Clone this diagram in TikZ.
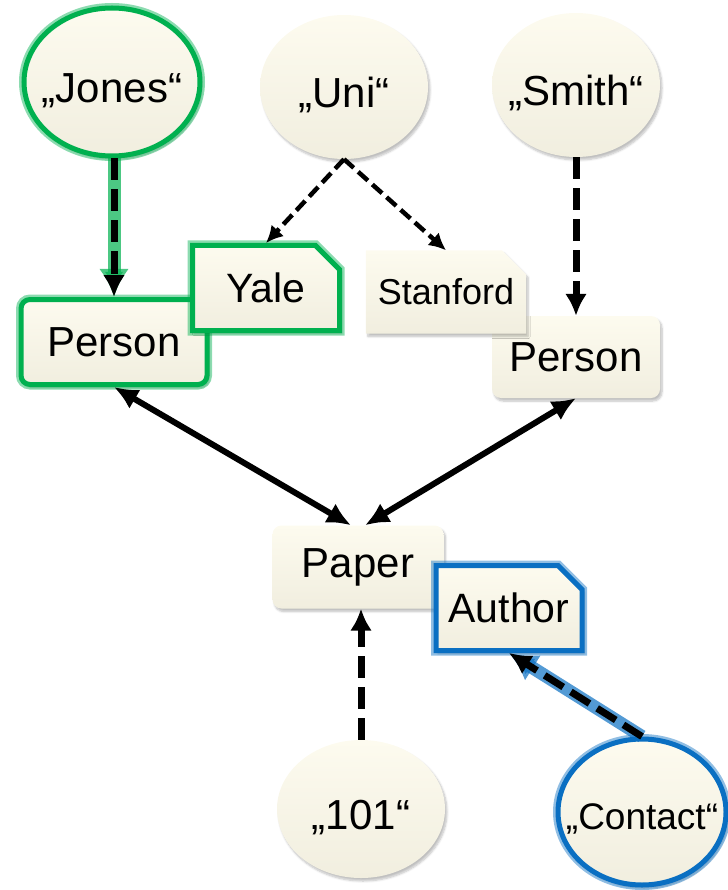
\documentclass[tikz,border=0pt]{standalone}
\usepackage{fontspec}
\setmainfont{Liberation Sans}
\usetikzlibrary{shapes.geometric,shapes.misc,arrows.meta,shadows.blur}

\definecolor{creamtop}{HTML}{FDFBEF}
\definecolor{creambot}{HTML}{F1EEDF}
\definecolor{markgreen}{HTML}{00B04F}
\definecolor{markblue}{HTML}{0A6FC2}

\newcommand{\litlabel}[1]{\makebox[0pt]{\raisebox{-0.48em}[0pt][0pt]{#1}}}

\tikzset{
    cream/.style={top color=creamtop, bottom color=creambot, draw=none,
        blur shadow={shadow xshift=2pt, shadow yshift=-3pt, shadow blur steps=6, shadow opacity=25}},
    lit/.style={cream, ellipse, inner sep=0pt, font=\fontsize{42}{48}\selectfont},
    cls/.style={cream, rectangle, rounded corners=9pt, inner sep=0pt, font=\fontsize{42}{48}\selectfont},
    doc/.style={cream, chamfered rectangle, chamfered rectangle corners=north east,
        chamfered rectangle xsep=12pt, chamfered rectangle ysep=12pt, inner sep=0pt,
        font=\fontsize{41}{48}\selectfont},
    greenmark/.style={draw=markgreen, line width=5pt,
        preaction={draw=markgreen, line width=10pt, opacity=.45}},
    bluemark/.style={draw=markblue, line width=5pt,
        preaction={draw=markblue, line width=10pt, opacity=.45}},
    valarrow/.style={line width=7pt, dash pattern=on 22pt off 9pt, -{Latex[length=22pt,width=22pt]}},
    uniarrow/.style={line width=4.5pt, dash pattern=on 13pt off 6pt, -{Latex[length=17pt,width=17pt]}},
    relarrow/.style={line width=6pt, {Latex[length=24pt,width=22pt]}-{Latex[length=24pt,width=22pt]}}
}

\begin{document}
\begin{tikzpicture}[x=1pt, y=-1pt]

    \useasboundingbox (0,0) rectangle (727,890);

    % literals
    \node[lit, greenmark, minimum width=176, minimum height=148] (jones) at (112,82) {\litlabel{„Jones“}};
    \node[lit, minimum width=168, minimum height=144] (uni) at (344,87) {\litlabel{„Uni“}};
    \node[lit, minimum width=168, minimum height=144] (smith) at (576,85) {\litlabel{„Smith“}};
    \node[lit, minimum width=168, minimum height=138] (n101) at (361,809) {\litlabel{„101“}};
    \node[lit, bluemark, minimum width=168, minimum height=146, font=\fontsize{37}{44}\selectfont] (contact) at (642,812) {\litlabel{„Contact“}};

    % classes
    \node[cls, greenmark, minimum width=186, minimum height=85] (person1) at (114,342) {Person};
    \node[cls, minimum width=168, minimum height=82] (person2) at (576,357) {Person};
    \node[cls, minimum width=171, minimum height=83] (paper) at (358,567) {Paper};

    % documents
    \node[doc, greenmark, minimum width=147, minimum height=85] (yale) at (266,288) {Yale};
    \node[doc, minimum width=144, minimum height=83, font=\fontsize{36}{42}\selectfont] (stanford) at (446,292) {Stanford};
    \node[doc, bluemark, minimum width=146, minimum height=85] (author) at (509,608) {Author};

    % values
    \draw[markgreen, opacity=.7, line width=13pt, -{Latex[length=28pt,width=30pt]}]
        (jones.south -| person1.north) -- (person1.north);
    \draw[valarrow] (jones.south -| person1.north) -- (person1.north); % Jones
    \draw[uniarrow] (uni.south) -- (yale.north); % Yale
    \draw[uniarrow] (uni.south) -- (stanford.north); % Stanford
    \draw[valarrow] (smith.south) -- (smith.south |- person2.north); % Smith
    \draw[valarrow] (n101.north) -- (n101.north |- paper.south); % 101
    \draw[markblue, opacity=.7, line width=13pt, -{Latex[length=28pt,width=30pt]}]
        (contact.north) -- (author.south);
    \draw[valarrow] (contact.north) -- (author.south); % Contact

    % relations
    \draw[relarrow] (person1.south) -- ([xshift=-7pt]paper.north);
    \draw[relarrow] (person2.south) -- ([xshift=7pt]paper.north);

\end{tikzpicture}
\end{document}
